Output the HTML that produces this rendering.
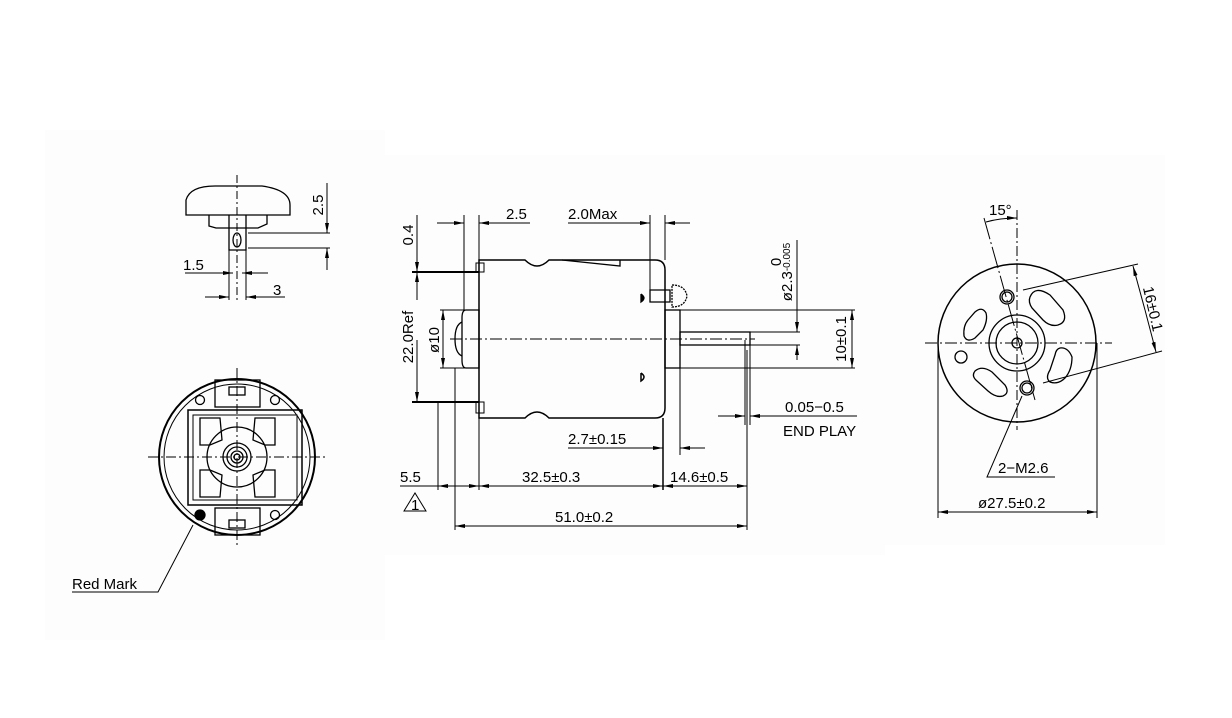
<!DOCTYPE html>
<html><head><meta charset="utf-8"><style>
html,body{margin:0;padding:0;background:#fff}
svg{display:block}
text{font-family:"Liberation Sans",sans-serif;font-size:15px;fill:#000}
</style></head><body>
<svg width="1232" height="718" viewBox="0 0 1232 718" xmlns="http://www.w3.org/2000/svg">
<rect x="0" y="0" width="1232" height="718" fill="#fff"/>
<rect x="45" y="130" width="340" height="510" fill="#fdfdfd"/>
<rect x="385" y="155" width="500" height="400" fill="#fdfdfd"/>
<rect x="885" y="155" width="280" height="390" fill="#fdfdfd"/>
<defs>
<marker id="a" viewBox="0 0 10 6" refX="10" refY="3" markerWidth="10" markerHeight="6" orient="auto-start-reverse" markerUnits="userSpaceOnUse"><path d="M0,1 L10,3 L0,5 z" fill="#000"/></marker>
</defs>
<g fill="none" stroke="#000" stroke-width="1.3">
<path d="M186,215 L186,200 Q190,186 215,186 L262,186 Q290,190 290,205 L290,215 Z"/>
<path d="M209,215 L209,226 L216,228 L258,228 L267,224 L267,215"/>
<path d="M229,215 L229,250 L246,250 L246,215"/>
<ellipse cx="237" cy="240" rx="4" ry="7"/>
<line x1="237" y1="175" x2="237" y2="300" stroke-dasharray="8,3,2,3" stroke-width="1"/>
<line x1="229" y1="250" x2="229" y2="300" stroke-width="1"/>
<line x1="246" y1="250" x2="246" y2="300" stroke-width="1"/>
<line x1="248" y1="233" x2="330" y2="233" stroke-width="1"/>
<line x1="248" y1="248" x2="330" y2="248" stroke-width="1"/>
<line x1="327" y1="183" x2="327" y2="233" stroke-width="1" marker-end="url(#a)"/>
<line x1="327" y1="270" x2="327" y2="248" stroke-width="1" marker-end="url(#a)"/>
<line x1="185" y1="273" x2="233" y2="273" stroke-width="1" marker-end="url(#a)"/>
<line x1="268" y1="273" x2="242" y2="273" stroke-width="1" marker-end="url(#a)"/>
<line x1="205" y1="297" x2="229" y2="297" stroke-width="1" marker-end="url(#a)"/>
<line x1="285" y1="297" x2="246" y2="297" stroke-width="1" marker-end="url(#a)"/>
<circle cx="237" cy="457" r="78" stroke-width="2"/>
<circle cx="237" cy="457" r="73" stroke-width="1"/>
<rect x="188" y="410" width="114" height="95" stroke-width="1.5"/>
<rect x="193" y="415" width="104" height="85" stroke-width="1"/>
<rect x="215" y="380" width="45" height="27"/>
<rect x="215" y="508" width="45" height="27"/>
<rect x="229" y="387" width="16" height="8"/>
<rect x="229" y="520" width="16" height="8"/>
<circle cx="200" cy="400" r="4.5"/>
<circle cx="275" cy="400" r="4.5"/>
<circle cx="275" cy="515" r="4.5"/>
<circle cx="200" cy="515" r="5" fill="#000"/>
<path d="M200,418 L220,418 L222,440 L210,445 L200,445 Z"/>
<path d="M275,418 L255,418 L253,440 L265,445 L275,445 Z"/>
<path d="M200,497 L220,497 L222,475 L210,470 L200,470 Z"/>
<path d="M275,497 L255,497 L253,475 L265,470 L275,470 Z"/>
<circle cx="237" cy="457" r="30"/>
<circle cx="237" cy="457" r="14"/>
<circle cx="237" cy="457" r="10"/>
<circle cx="237" cy="457" r="6"/>
<circle cx="237" cy="457" r="3"/>
<line x1="148" y1="457" x2="325" y2="457" stroke-dasharray="10,3,2,3" stroke-width="1"/>
<line x1="237" y1="368" x2="237" y2="548" stroke-dasharray="10,3,2,3" stroke-width="1"/>
<path d="M193,525 L158,592 L72,592" stroke-width="1"/>
<path d="M479,260 L525,260 Q537,272 549,260 L655,260 Q665,260 665,270 L665,408 Q665,418 655,418 L549,418 Q537,406 525,418 L479,418 Z" stroke-width="1.5"/>
<path d="M562,260 L620,266 L620,260"/>
<path d="M466,310 L479,310 L479,368 L466,368 Q462,368 462,360 L462,318 Q462,310 466,310 Z"/>
<path d="M462,322 Q455,325 455,339 Q455,353 462,356"/>
<rect x="665" y="310" width="15" height="58"/>
<rect x="680" y="332" width="70" height="13"/>
<path d="M650,290 L670,290 L670,302 L650,302 Z"/>
<path d="M672,285 Q685,285 687,296 Q685,307 672,307 Z" stroke-dasharray="2,1"/>
<path d="M641,294 L641,302 Q647,298 641,294" fill="#000"/>
<path d="M641,373 L641,381 Q647,377 641,373" stroke-width="1.5"/>
<line x1="412" y1="272" x2="479" y2="272" stroke-width="2"/>
<line x1="412" y1="402" x2="479" y2="402" stroke-width="2"/>
<rect x="476" y="263" width="8" height="9" stroke-width="1"/>
<rect x="476" y="402" width="8" height="11" stroke-width="1"/>
<line x1="450" y1="339" x2="755" y2="339" stroke-dasharray="12,3,2,3" stroke-width="1"/>
<g stroke-width="1">
<line x1="464" y1="215" x2="464" y2="310"/>
<line x1="479" y1="215" x2="479" y2="260"/>
<line x1="650" y1="215" x2="650" y2="290"/>
<line x1="665" y1="215" x2="665" y2="260"/>
<line x1="437" y1="223" x2="464" y2="223" marker-end="url(#a)"/>
<line x1="530" y1="223" x2="479" y2="223" marker-end="url(#a)"/>
<line x1="568" y1="223" x2="650" y2="223" marker-end="url(#a)"/>
<line x1="690" y1="223" x2="665" y2="223" marker-end="url(#a)"/>
<line x1="417" y1="215" x2="417" y2="272" marker-end="url(#a)"/>
<line x1="417" y1="285" x2="417" y2="272" marker-end="url(#a)"/>
<line x1="417" y1="340" x2="417" y2="402" marker-end="url(#a)"/>
<line x1="417" y1="300" x2="417" y2="272"/>
<line x1="443" y1="339" x2="443" y2="310" marker-end="url(#a)"/>
<line x1="443" y1="339" x2="443" y2="368" marker-end="url(#a)"/>
<line x1="440" y1="310" x2="466" y2="310"/>
<line x1="440" y1="368" x2="466" y2="368"/>
<line x1="750" y1="332" x2="800" y2="332"/>
<line x1="750" y1="345" x2="800" y2="345"/>
<line x1="797" y1="240" x2="797" y2="332" marker-end="url(#a)"/>
<line x1="797" y1="360" x2="797" y2="345" marker-end="url(#a)"/>
<line x1="680" y1="310" x2="855" y2="310"/>
<line x1="680" y1="368" x2="855" y2="368"/>
<line x1="852" y1="339" x2="852" y2="310" marker-end="url(#a)"/>
<line x1="852" y1="339" x2="852" y2="368" marker-end="url(#a)"/>
<line x1="745" y1="340" x2="745" y2="425"/>
<line x1="750" y1="345" x2="750" y2="425"/>
<line x1="718" y1="416" x2="745" y2="416" marker-end="url(#a)"/>
<line x1="857" y1="416" x2="750" y2="416" marker-end="url(#a)"/>
<line x1="680" y1="368" x2="680" y2="455"/>
<line x1="568" y1="448" x2="663" y2="448" marker-end="url(#a)"/>
<line x1="705" y1="448" x2="680" y2="448" marker-end="url(#a)"/>
<line x1="438" y1="402" x2="438" y2="490"/>
<line x1="455" y1="368" x2="455" y2="530"/>
<line x1="479" y1="418" x2="479" y2="490"/>
<line x1="663" y1="418" x2="663" y2="490" stroke-width="1.5"/>
<line x1="747" y1="350" x2="747" y2="530"/>
<line x1="400" y1="486" x2="438" y2="486"/>
<line x1="460" y1="486" x2="438" y2="486" marker-end="url(#a)"/>
<line x1="460" y1="486" x2="479" y2="486" marker-end="url(#a)"/>
<line x1="570" y1="486" x2="479" y2="486" marker-end="url(#a)"/>
<line x1="570" y1="486" x2="663" y2="486" marker-end="url(#a)"/>
<line x1="705" y1="486" x2="663" y2="486" marker-end="url(#a)"/>
<line x1="705" y1="486" x2="747" y2="486" marker-end="url(#a)"/>
<line x1="600" y1="526" x2="455" y2="526" marker-end="url(#a)"/>
<line x1="600" y1="526" x2="747" y2="526" marker-end="url(#a)"/>
<path d="M404,511 L415,493 L426,511 Z"/>
</g>
<circle cx="1017" cy="343" r="79" stroke-width="1.5"/>
<circle cx="1017" cy="343" r="28"/>
<circle cx="1017" cy="343" r="21"/>
<circle cx="1017" cy="343" r="5"/>
<circle cx="1007" cy="297" r="7"/>
<circle cx="1007" cy="297" r="5"/>
<circle cx="1027" cy="388" r="7"/>
<circle cx="1027" cy="388" r="5"/>
<circle cx="961" cy="357" r="6"/>
<path d="M1030,297 Q1035,285 1050,295 L1063,310 Q1068,322 1058,325 Q1050,327 1043,320 L1032,308 Q1028,302 1030,297 Z"/>
<path d="M1060,348 Q1068,347 1072,357 Q1072,370 1065,378 Q1058,385 1050,382 Q1045,378 1050,370 L1055,355 Q1056,349 1060,348 Z"/>
<path d="M975,312 Q982,306 986,313 Q988,320 983,330 L975,338 Q967,343 964,336 Q963,326 968,320 Z"/>
<path d="M975,371 Q982,365 992,372 L1005,385 Q1010,393 1003,396 Q996,398 988,391 L977,381 Q971,376 975,371 Z"/>
<line x1="925" y1="343" x2="1112" y2="343" stroke-dasharray="12,3,2,3" stroke-width="1"/>
<line x1="1017" y1="210" x2="1017" y2="430" stroke-dasharray="10,3,2,3" stroke-width="1"/>
<g stroke-width="1">
<line x1="984" y1="218" x2="1035" y2="400" stroke-dasharray="22,3,2,3"/>
<path d="M986,222 Q1000,218 1017,218" marker-end="url(#a)"/>
<line x1="1023" y1="290" x2="1138" y2="264"/>
<line x1="1043" y1="383" x2="1162" y2="351"/>
<line x1="1145" y1="310" x2="1133" y2="266" marker-end="url(#a)"/>
<line x1="1145" y1="310" x2="1156" y2="352" marker-end="url(#a)"/>
<path d="M1022,396 L987,477 L1055,477"/>
<line x1="938" y1="343" x2="938" y2="518"/>
<line x1="1097" y1="343" x2="1097" y2="518"/>
<line x1="1017" y1="512" x2="938" y2="512" marker-end="url(#a)"/>
<line x1="1017" y1="512" x2="1097" y2="512" marker-end="url(#a)"/>
</g>
</g>
<text x="323" y="205" transform="rotate(-90 323 205)" text-anchor="middle">2.5</text>
<text x="183" y="270">1.5</text>
<text x="273" y="295">3</text>
<text x="72" y="589">Red Mark</text>
<text x="506" y="219">2.5</text>
<text x="568" y="219">2.0Max</text>
<text x="413" y="235" transform="rotate(-90 413 235)" text-anchor="middle">0.4</text>
<text x="413" y="337" transform="rotate(-90 413 337)" text-anchor="middle">22.0Ref</text>
<text x="439" y="340" transform="rotate(-90 439 340)" text-anchor="middle">ø10</text>
<text x="792" y="272" transform="rotate(-90 792 272)" text-anchor="middle">ø2.3<tspan font-size="10" dy="-2">-0.005</tspan></text>
<text x="781" y="262" transform="rotate(-90 781 262)" text-anchor="middle" font-size="10">0</text>
<text x="846" y="339" transform="rotate(-90 846 339)" text-anchor="middle">10±0.1</text>
<text x="785" y="412">0.05−0.5</text>
<text x="783" y="436">END PLAY</text>
<text x="568" y="444">2.7±0.15</text>
<text x="400" y="482">5.5</text>
<text x="522" y="482">32.5±0.3</text>
<text x="670" y="482">14.6±0.5</text>
<text x="555" y="522">51.0±0.2</text>
<text x="411" y="510" font-size="11">1</text>
<text x="989" y="215">15°</text>
<text x="1148" y="310" transform="rotate(77 1148 310)" text-anchor="middle">16±0.1</text>
<text x="998" y="473">2−M2.6</text>
<text x="978" y="508">ø27.5±0.2</text>
</svg>
</body></html>
